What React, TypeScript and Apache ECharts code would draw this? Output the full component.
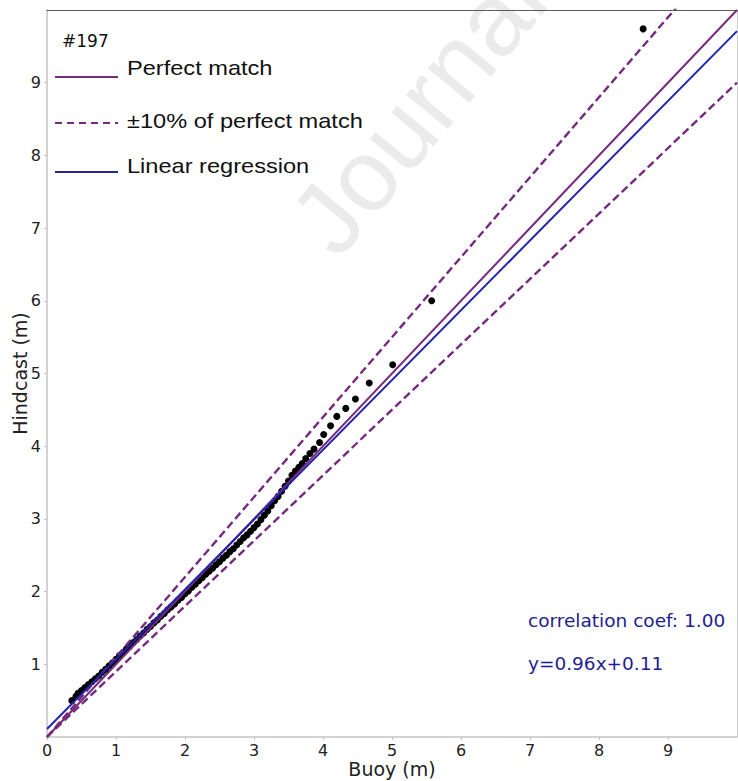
import { useEffect, useRef } from "react";
import * as echarts from "echarts";

// Q-Q points (buoy vs hindcast, m)
const buoyValues = [
  0.36, 0.42, 0.45, 0.5, 0.55, 0.6, 0.65, 0.7, 0.75, 0.8, 0.85, 0.9, 0.95, 1.0,
  1.05, 1.1, 1.15, 1.2, 1.25, 1.3, 1.35, 1.4, 1.45, 1.5, 1.55, 1.6, 1.65, 1.7,
  1.75, 1.8, 1.85, 1.9, 1.95, 2.0, 2.05, 2.1, 2.15, 2.2, 2.25, 2.3, 2.35, 2.4,
  2.45, 2.5, 2.55, 2.6, 2.65, 2.7, 2.75, 2.8, 2.85, 2.9, 2.95, 3.0, 3.05, 3.1,
  3.15, 3.2, 3.25, 3.3, 3.35, 3.4, 3.45, 3.5, 3.55, 3.6, 3.65, 3.7, 3.75, 3.81,
  3.87, 3.95, 4.01, 4.11, 4.2, 4.33, 4.47, 4.67, 5.01, 5.575, 8.64,
];
const hindcastValues = [
  0.5, 0.56, 0.6, 0.64, 0.68, 0.72, 0.76, 0.8, 0.84, 0.89, 0.93, 0.98, 1.02, 1.07,
  1.12, 1.16, 1.21, 1.25, 1.3, 1.34, 1.39, 1.43, 1.48, 1.52, 1.57, 1.61, 1.66, 1.7,
  1.75, 1.79, 1.83, 1.88, 1.92, 1.97, 2.01, 2.06, 2.1, 2.15, 2.19, 2.24, 2.28, 2.32,
  2.37, 2.41, 2.46, 2.5, 2.55, 2.59, 2.64, 2.69, 2.74, 2.78, 2.83, 2.88, 2.93, 2.99,
  3.05, 3.11, 3.18, 3.25, 3.31, 3.38, 3.45, 3.52, 3.6, 3.66, 3.71, 3.76, 3.83, 3.9,
  3.96, 4.05, 4.16, 4.28, 4.41, 4.52, 4.65, 4.87, 5.12, 6.0, 9.74,
];

const perfectSlope = 1;
const upperSlope = 1.1;
const lowerSlope = 0.9;
const regressionSlope = 0.96;
const regressionIntercept = 0.11;
const axisMin = 0;
const axisMax = 10;
const tickInterval = 1;

const stationLabel = "#197";
const legendLabels = ["Perfect match", "±10% of perfect match", "Linear regression"];
const correlationText = "correlation coef: 1.00";
const equationText = "y=0.96x+0.11";
const xAxisName = "Buoy (m)";
const yAxisName = "Hindcast (m)";
const watermarkText = "Journal";

const PURPLE = "#762a7e";
const BLUE = "#2323b0";
const LEGEND_BLUE = "#26268c";
const ANNOT = "#1e1e90";
const MPL_FONT = "'DejaVu Sans', sans-serif";
const ARIAL = "'Liberation Sans', Arial, sans-serif";

export default function App() {
  const ref = useRef<HTMLDivElement>(null);

  useEffect(() => {
    const chart = echarts.init(ref.current!, null, { renderer: "svg" });
    const lineEnds = (slope: number, intercept = 0) => [
      [axisMin, intercept + slope * axisMin],
      [axisMax, intercept + slope * axisMax],
    ];
    const points = buoyValues.map((b, i) => [b, hindcastValues[i]]);

    const axisCommon = {
      type: "value" as const,
      min: axisMin,
      max: axisMax,
      interval: tickInterval,
      splitLine: { show: false },
    };

    chart.setOption({
      animation: false,
      backgroundColor: "#ffffff",
      grid: {
        left: 47,
        right: 1,
        top: 10,
        bottom: 44,
        containLabel: false,
        outerBoundsMode: "none",
      },
      xAxis: [
        {
          ...axisCommon,
          position: "bottom",
          name: xAxisName,
          nameLocation: "middle",
          nameGap: 23,
          nameMoveOverlap: false,
          nameTextStyle: { fontFamily: MPL_FONT, fontSize: 19, lineHeight: 17, color: "#222" },
          axisLine: { show: true, onZero: false, lineStyle: { color: "#c4c4c4", width: 1.5 } },
          axisTick: { show: true, length: 3, lineStyle: { color: "#c4c4c4" } },
          axisLabel: {
            show: true,
            margin: 5,
            showMaxLabel: false,
            fontFamily: MPL_FONT,
            fontSize: 16,
            lineHeight: 16,
            color: "#222",
          },
        },
        {
          ...axisCommon,
          position: "top",
          axisLine: { show: true, onZero: false, lineStyle: { color: "#5a5a5a", width: 1.2 } },
          axisTick: { show: false },
          axisLabel: { show: false },
        },
      ],
      yAxis: [
        {
          ...axisCommon,
          position: "left",
          name: yAxisName,
          nameLocation: "middle",
          nameGap: 18,
          nameMoveOverlap: false,
          nameRotate: 90,
          nameTextStyle: { fontFamily: MPL_FONT, fontSize: 19, color: "#222" },
          axisLine: { show: true, onZero: false, lineStyle: { color: "#c4c4c4", width: 1.5 } },
          axisTick: { show: true, length: 3, lineStyle: { color: "#c4c4c4" } },
          axisLabel: {
            show: true,
            margin: 6,
            showMinLabel: false,
            showMaxLabel: false,
            fontFamily: MPL_FONT,
            fontSize: 16,
            color: "#222",
          },
        },
        {
          ...axisCommon,
          position: "right",
          axisLine: { show: true, onZero: false, lineStyle: { color: "#d0d0d0", width: 1 } },
          axisTick: { show: false },
          axisLabel: { show: false },
        },
      ],
      series: [
        {
          type: "scatter",
          data: points,
          symbol: "circle",
          symbolSize: 7,
          itemStyle: { color: "#000000", opacity: 1 },
          z: 2,
        },
        {
          type: "line",
          data: lineEnds(upperSlope),
          showSymbol: false,
          clip: true,
          lineStyle: { color: PURPLE, width: 2.4, type: [8, 4] },
          z: 3,
        },
        {
          type: "line",
          data: lineEnds(lowerSlope),
          showSymbol: false,
          clip: true,
          lineStyle: { color: PURPLE, width: 2.4, type: [8, 4] },
          z: 3,
        },
        {
          type: "line",
          data: lineEnds(perfectSlope),
          showSymbol: false,
          clip: true,
          lineStyle: { color: PURPLE, width: 2 },
          z: 4,
        },
        {
          type: "line",
          data: lineEnds(regressionSlope, regressionIntercept),
          showSymbol: false,
          clip: true,
          lineStyle: { color: BLUE, width: 2 },
          z: 5,
        },
      ],
      graphic: [
        {
          type: "text",
          x: 418,
          y: 110,
          rotation: 0.88,
          z: -1,
          silent: true,
          style: {
            text: watermarkText,
            fontFamily: ARIAL,
            fontSize: 102,
            fill: "#ebebeb",
            align: "center",
            verticalAlign: "middle",
          },
        },
        {
          type: "text",
          x: 62,
          y: 41,
          z: 100,
          style: {
            text: stationLabel,
            fontFamily: MPL_FONT,
            fontSize: 17,
            fill: "#111",
            verticalAlign: "middle",
          },
        },
        {
          type: "line",
          z: 100,
          shape: { x1: 55, y1: 77, x2: 118, y2: 77 },
          style: { stroke: PURPLE, lineWidth: 2 },
        },
        {
          type: "line",
          z: 100,
          shape: { x1: 55, y1: 123, x2: 118, y2: 123 },
          style: { stroke: PURPLE, lineWidth: 2, lineDash: [7, 5] },
        },
        {
          type: "line",
          z: 100,
          shape: { x1: 55, y1: 172, x2: 118, y2: 172 },
          style: { stroke: LEGEND_BLUE, lineWidth: 2 },
        },
        ...legendLabels.map((label, i) => ({
          type: "text",
          x: 127,
          y: [68, 121, 166][i],
          scaleX: 1.18,
          z: 100,
          style: {
            text: label,
            fontFamily: ARIAL,
            fontSize: 20,
            fill: "#111",
            verticalAlign: "middle",
          },
        })),
        {
          type: "text",
          x: 528,
          y: 620,
          z: 100,
          style: {
            text: correlationText,
            fontFamily: MPL_FONT,
            fontSize: 18.5,
            fill: ANNOT,
            verticalAlign: "middle",
          },
        },
        {
          type: "text",
          x: 528,
          y: 663,
          z: 100,
          style: {
            text: equationText,
            fontFamily: MPL_FONT,
            fontSize: 18.5,
            fill: ANNOT,
            verticalAlign: "middle",
          },
        },
      ],
    });

    return () => chart.dispose();
  }, []);

  return (
    <div
      ref={ref}
      style={{ position: "absolute", left: 0, top: 0, width: 738, height: 781 }}
    />
  );
}
